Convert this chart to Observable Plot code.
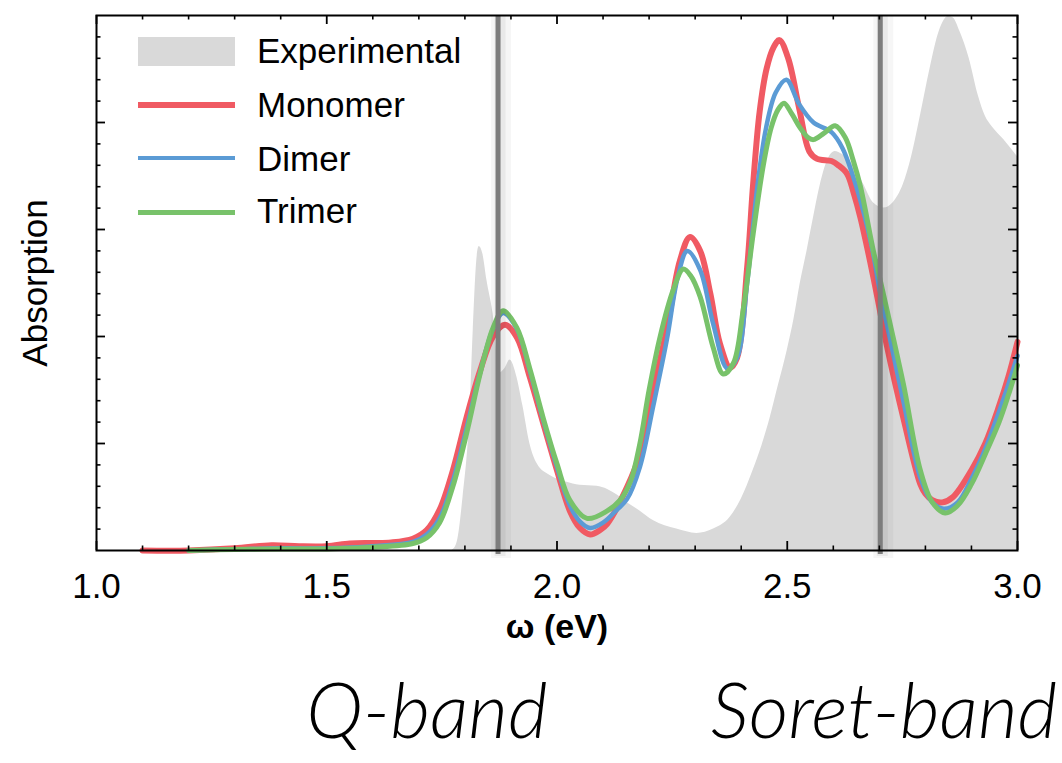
<!DOCTYPE html>
<html><head><meta charset="utf-8">
<script src="https://cdn.jsdelivr.net/npm/d3@7"></script>
<script src="https://cdn.jsdelivr.net/npm/@observablehq/plot@0.6"></script>
<style>
body{margin:0;background:#fff;}
#wrap{position:relative;width:1062px;height:763px;font-family:"Liberation Sans",Arial,Helvetica,sans-serif;}
.leg{position:absolute;left:257px;font-size:35px;line-height:35px;color:#000;white-space:nowrap;}
.sw{position:absolute;left:138px;width:97px;}
.band{position:absolute;font-family:Lato,"Liberation Sans",Arial,sans-serif;font-style:italic;font-weight:300;font-size:77px;line-height:77px;transform:translateX(-50%);white-space:nowrap;color:#000;}
</style></head>
<body><div id="wrap"></div>
<script>
// ---- data ----
const seriesNames = ["Experimental", "Monomer", "Dimer", "Trimer"];
const seriesColors = ["#d9d9d9", "#f05a63", "#5b9bd5", "#78c26a"];

const xMajor = [1.0, 1.5, 2.0, 2.5, 3.0];
const xMinor = [1.1, 1.2, 1.3, 1.4, 1.6, 1.7, 1.8, 1.9, 2.1, 2.2, 2.3, 2.4, 2.6, 2.7, 2.8, 2.9];
const yMajor = [1, 2, 3, 4];
const yMinor = [0.2, 0.4, 0.6, 0.8, 1.2, 1.4, 1.6, 1.8, 2.2, 2.4, 2.6, 2.8, 3.2, 3.4, 3.6, 3.8, 4.2, 4.4, 4.6, 4.8];

const bandLines = [1.872, 2.702];
const bandLabels = ["Q-band", "Soret-band"];

const expEnergy = [1.772, 1.782, 1.796, 1.811, 1.818, 1.826, 1.831, 1.839, 1.848, 1.861, 1.876, 1.887, 1.898, 1.913, 1.926, 1.941, 1.957, 1.985, 2.02, 2.05, 2.087, 2.11, 2.13, 2.155, 2.18, 2.209, 2.26, 2.304, 2.34, 2.376, 2.40, 2.426, 2.445, 2.463, 2.48, 2.5, 2.515, 2.528, 2.543, 2.557, 2.572, 2.587, 2.604, 2.62, 2.643, 2.665, 2.687, 2.71, 2.73, 2.752, 2.77, 2.79, 2.81, 2.83, 2.85, 2.86, 2.875, 2.895, 2.915, 2.93, 2.945, 2.97, 3.0];
const expAbs    = [0, 0.06, 0.5, 1.3, 2.05, 2.72, 2.84, 2.77, 2.52, 2.22, 1.66, 1.7, 1.78, 1.62, 1.35, 1.0, 0.81, 0.7, 0.64, 0.61, 0.6, 0.57, 0.52, 0.44, 0.37, 0.28, 0.2, 0.16, 0.2, 0.31, 0.48, 0.75, 0.98, 1.24, 1.53, 1.87, 2.17, 2.49, 2.8, 3.11, 3.42, 3.64, 3.73, 3.7, 3.6, 3.43, 3.25, 3.2, 3.25, 3.42, 3.68, 4.08, 4.5, 4.85, 4.99, 4.98, 4.85, 4.6, 4.25, 4.06, 3.96, 3.84, 3.68];

const monoEnergy = [1.1, 1.2, 1.3, 1.38, 1.44, 1.5, 1.55, 1.6, 1.64, 1.687, 1.717, 1.745, 1.774, 1.804, 1.833, 1.861, 1.887, 1.913, 1.941, 1.97, 2.0, 2.028, 2.05, 2.072, 2.093, 2.109, 2.152, 2.18, 2.209, 2.239, 2.267, 2.289, 2.311, 2.333, 2.354, 2.376, 2.391, 2.413, 2.426, 2.44, 2.455, 2.47, 2.483, 2.502, 2.526, 2.548, 2.565, 2.596, 2.611, 2.63, 2.645, 2.659, 2.68, 2.696, 2.717, 2.752, 2.789, 2.80, 2.815, 2.837, 2.86, 2.9, 2.93, 2.96, 2.98, 3.0];
const monoAbs    = [0, 0, 0.02, 0.05, 0.04, 0.04, 0.065, 0.07, 0.075, 0.11, 0.19, 0.38, 0.75, 1.25, 1.68, 2.0, 2.11, 1.99, 1.62, 1.19, 0.75, 0.37, 0.21, 0.15, 0.19, 0.25, 0.59, 0.9, 1.5, 2.08, 2.71, 2.93, 2.8, 2.4, 1.93, 1.71, 1.8, 2.65, 3.43, 4.1, 4.5, 4.7, 4.77, 4.6, 4.13, 3.73, 3.66, 3.64, 3.6, 3.52, 3.33, 3.11, 2.7, 2.36, 1.9, 1.24, 0.62, 0.53, 0.47, 0.45, 0.5, 0.75, 1.0, 1.35, 1.62, 1.95];

const dimEnergy = [1.2, 1.3, 1.4, 1.5, 1.6, 1.687, 1.717, 1.745, 1.774, 1.804, 1.833, 1.861, 1.883, 1.913, 1.941, 1.97, 2.0, 2.028, 2.05, 2.072, 2.1, 2.13, 2.152, 2.18, 2.209, 2.239, 2.262, 2.283, 2.311, 2.339, 2.37, 2.391, 2.413, 2.435, 2.454, 2.475, 2.498, 2.526, 2.557, 2.596, 2.62, 2.65, 2.683, 2.70, 2.717, 2.752, 2.789, 2.815, 2.84, 2.87, 2.9, 2.93, 2.96, 2.98, 3.0];
const dimAbs    = [0, 0.01, 0.02, 0.02, 0.04, 0.08, 0.15, 0.3, 0.65, 1.15, 1.66, 2.07, 2.22, 2.07, 1.68, 1.22, 0.78, 0.42, 0.27, 0.21, 0.26, 0.38, 0.48, 0.78, 1.35, 1.98, 2.55, 2.8, 2.62, 2.12, 1.7, 1.8, 2.5, 3.4, 3.95, 4.28, 4.4, 4.17, 4.0, 3.91, 3.76, 3.4, 2.85, 2.45, 2.1, 1.4, 0.68, 0.45, 0.39, 0.45, 0.67, 0.95, 1.3, 1.55, 1.82];

const triEnergy = [1.2, 1.3, 1.4, 1.5, 1.6, 1.687, 1.717, 1.745, 1.774, 1.804, 1.833, 1.861, 1.883, 1.913, 1.941, 1.97, 2.0, 2.028, 2.065, 2.109, 2.137, 2.16, 2.18, 2.2, 2.224, 2.252, 2.274, 2.29, 2.311, 2.339, 2.361, 2.383, 2.404, 2.426, 2.448, 2.465, 2.48, 2.493, 2.51, 2.528, 2.545, 2.557, 2.58, 2.604, 2.626, 2.643, 2.659, 2.687, 2.698, 2.717, 2.752, 2.789, 2.815, 2.843, 2.87, 2.9, 2.93, 2.96, 2.98, 3.0];
const triAbs    = [0, 0.01, 0.015, 0.015, 0.03, 0.065, 0.12, 0.26, 0.6, 1.1, 1.65, 2.08, 2.24, 2.08, 1.7, 1.24, 0.81, 0.47, 0.3, 0.37, 0.47, 0.65, 1.0, 1.5, 2.0, 2.43, 2.63, 2.57, 2.37, 1.9, 1.65, 1.75, 2.24, 2.96, 3.6, 3.95, 4.12, 4.18, 4.08, 3.95, 3.86, 3.84, 3.9, 3.97, 3.86, 3.65, 3.4, 2.8, 2.6, 2.24, 1.56, 0.75, 0.45, 0.35, 0.42, 0.62, 0.9, 1.2, 1.45, 1.73];

// ---- build ----
const rows = (es, as) => es.map((e, i) => ({e, a: as[i]}));
const expRows = rows(expEnergy, expAbs);
const monoRows = rows(monoEnergy, monoAbs);
const dimRows = rows(dimEnergy, dimAbs);
const triRows = rows(triEnergy, triAbs);

const W = 1062, H = 665, ML = 96, MR = 45, MT = 15, MB = 115;
const FW = W - ML - MR, FH = H - MT - MB;
const FONT = '"Liberation Sans", Arial, Helvetica, sans-serif';

const chart = Plot.plot({
  width: W, height: H,
  marginLeft: ML, marginRight: MR, marginTop: MT, marginBottom: MB,
  x: {domain: [1, 3], label: null},
  y: {domain: [0, 5], axis: null, label: null},
  style: {fontFamily: FONT, fontSize: "34px", background: "white", color: "black", overflow: "visible"},
  marks: [
    Plot.areaY(expRows, {x: "e", y: "a", fill: seriesColors[0], curve: "monotone-x"}),
    Plot.line(monoRows, {x: "e", y: "a", stroke: seriesColors[1], strokeWidth: 6, curve: "catmull-rom"}),
    Plot.line(dimRows, {x: "e", y: "a", stroke: seriesColors[2], strokeWidth: 4.5, curve: "catmull-rom"}),
    Plot.line(triRows, {x: "e", y: "a", stroke: seriesColors[3], strokeWidth: 5, curve: "catmull-rom"}),
    Plot.ruleX(bandLines, {x: d => d, stroke: "#000", strokeOpacity: 0.035, strokeWidth: 20, dx: 3, insetBottom: -8}),
    Plot.ruleX(bandLines, {x: d => d, stroke: "#000", strokeOpacity: 0.05, strokeWidth: 11, dx: 2, insetBottom: -6}),
    Plot.ruleX(bandLines, {x: d => d, stroke: "#7d7d7d", strokeWidth: 5, insetBottom: -4}),
    Plot.frame({stroke: "black", strokeWidth: 2}),
    Plot.tickX(xMinor, {x: d => d, strokeWidth: 1.6, insetTop: FH - 4.5}),
    Plot.tickX(xMinor, {x: d => d, strokeWidth: 1.6, insetBottom: FH - 4.5}),
    Plot.tickX(xMajor, {x: d => d, strokeWidth: 1.8, insetTop: FH - 9}),
    Plot.tickX(xMajor, {x: d => d, strokeWidth: 1.8, insetBottom: FH - 9}),
    Plot.tickY(yMinor, {y: d => d, strokeWidth: 1.6, insetRight: FW - 4.5}),
    Plot.tickY(yMinor, {y: d => d, strokeWidth: 1.6, insetLeft: FW - 4.5}),
    Plot.tickY(yMajor, {y: d => d, strokeWidth: 1.8, insetRight: FW - 9}),
    Plot.tickY(yMajor, {y: d => d, strokeWidth: 1.8, insetLeft: FW - 9}),
    Plot.axisX(xMajor, {tickSize: 0, tickPadding: 23, tickFormat: d => d.toFixed(1), label: null, fontSize: 35}),
    Plot.text(["ω (eV)"], {text: d => d, frameAnchor: "bottom", dy: 87, fontWeight: "bold", fontSize: 34}),
    Plot.text(["Absorption"], {text: d => d, frameAnchor: "left", textAnchor: "middle", rotate: -90, dx: -61, fontSize: 35})
  ]
});

const wrap = document.getElementById("wrap");
wrap.appendChild(chart);

// legend (inside frame, top-left)
const legTextTop = [33.4, 87.4, 141.4, 193.4];
const swTop = [37, 102, 155.75, 209.5];
const swH = [29, 6, 4.5, 5];
seriesNames.forEach((name, i) => {
  const sw = document.createElement("div");
  sw.className = "sw";
  sw.style.top = swTop[i] + "px";
  sw.style.height = swH[i] + "px";
  sw.style.background = seriesColors[i];
  wrap.appendChild(sw);
  const t = document.createElement("div");
  t.className = "leg";
  t.style.top = legTextTop[i] + "px";
  t.textContent = name;
  wrap.appendChild(t);
});

// band captions below the chart
const bandCenters = [427, 884];
bandLabels.forEach((name, i) => {
  const b = document.createElement("div");
  b.className = "band";
  b.style.left = bandCenters[i] + "px";
  b.style.top = "670px";
  b.textContent = name;
  wrap.appendChild(b);
});
</script></body></html>
